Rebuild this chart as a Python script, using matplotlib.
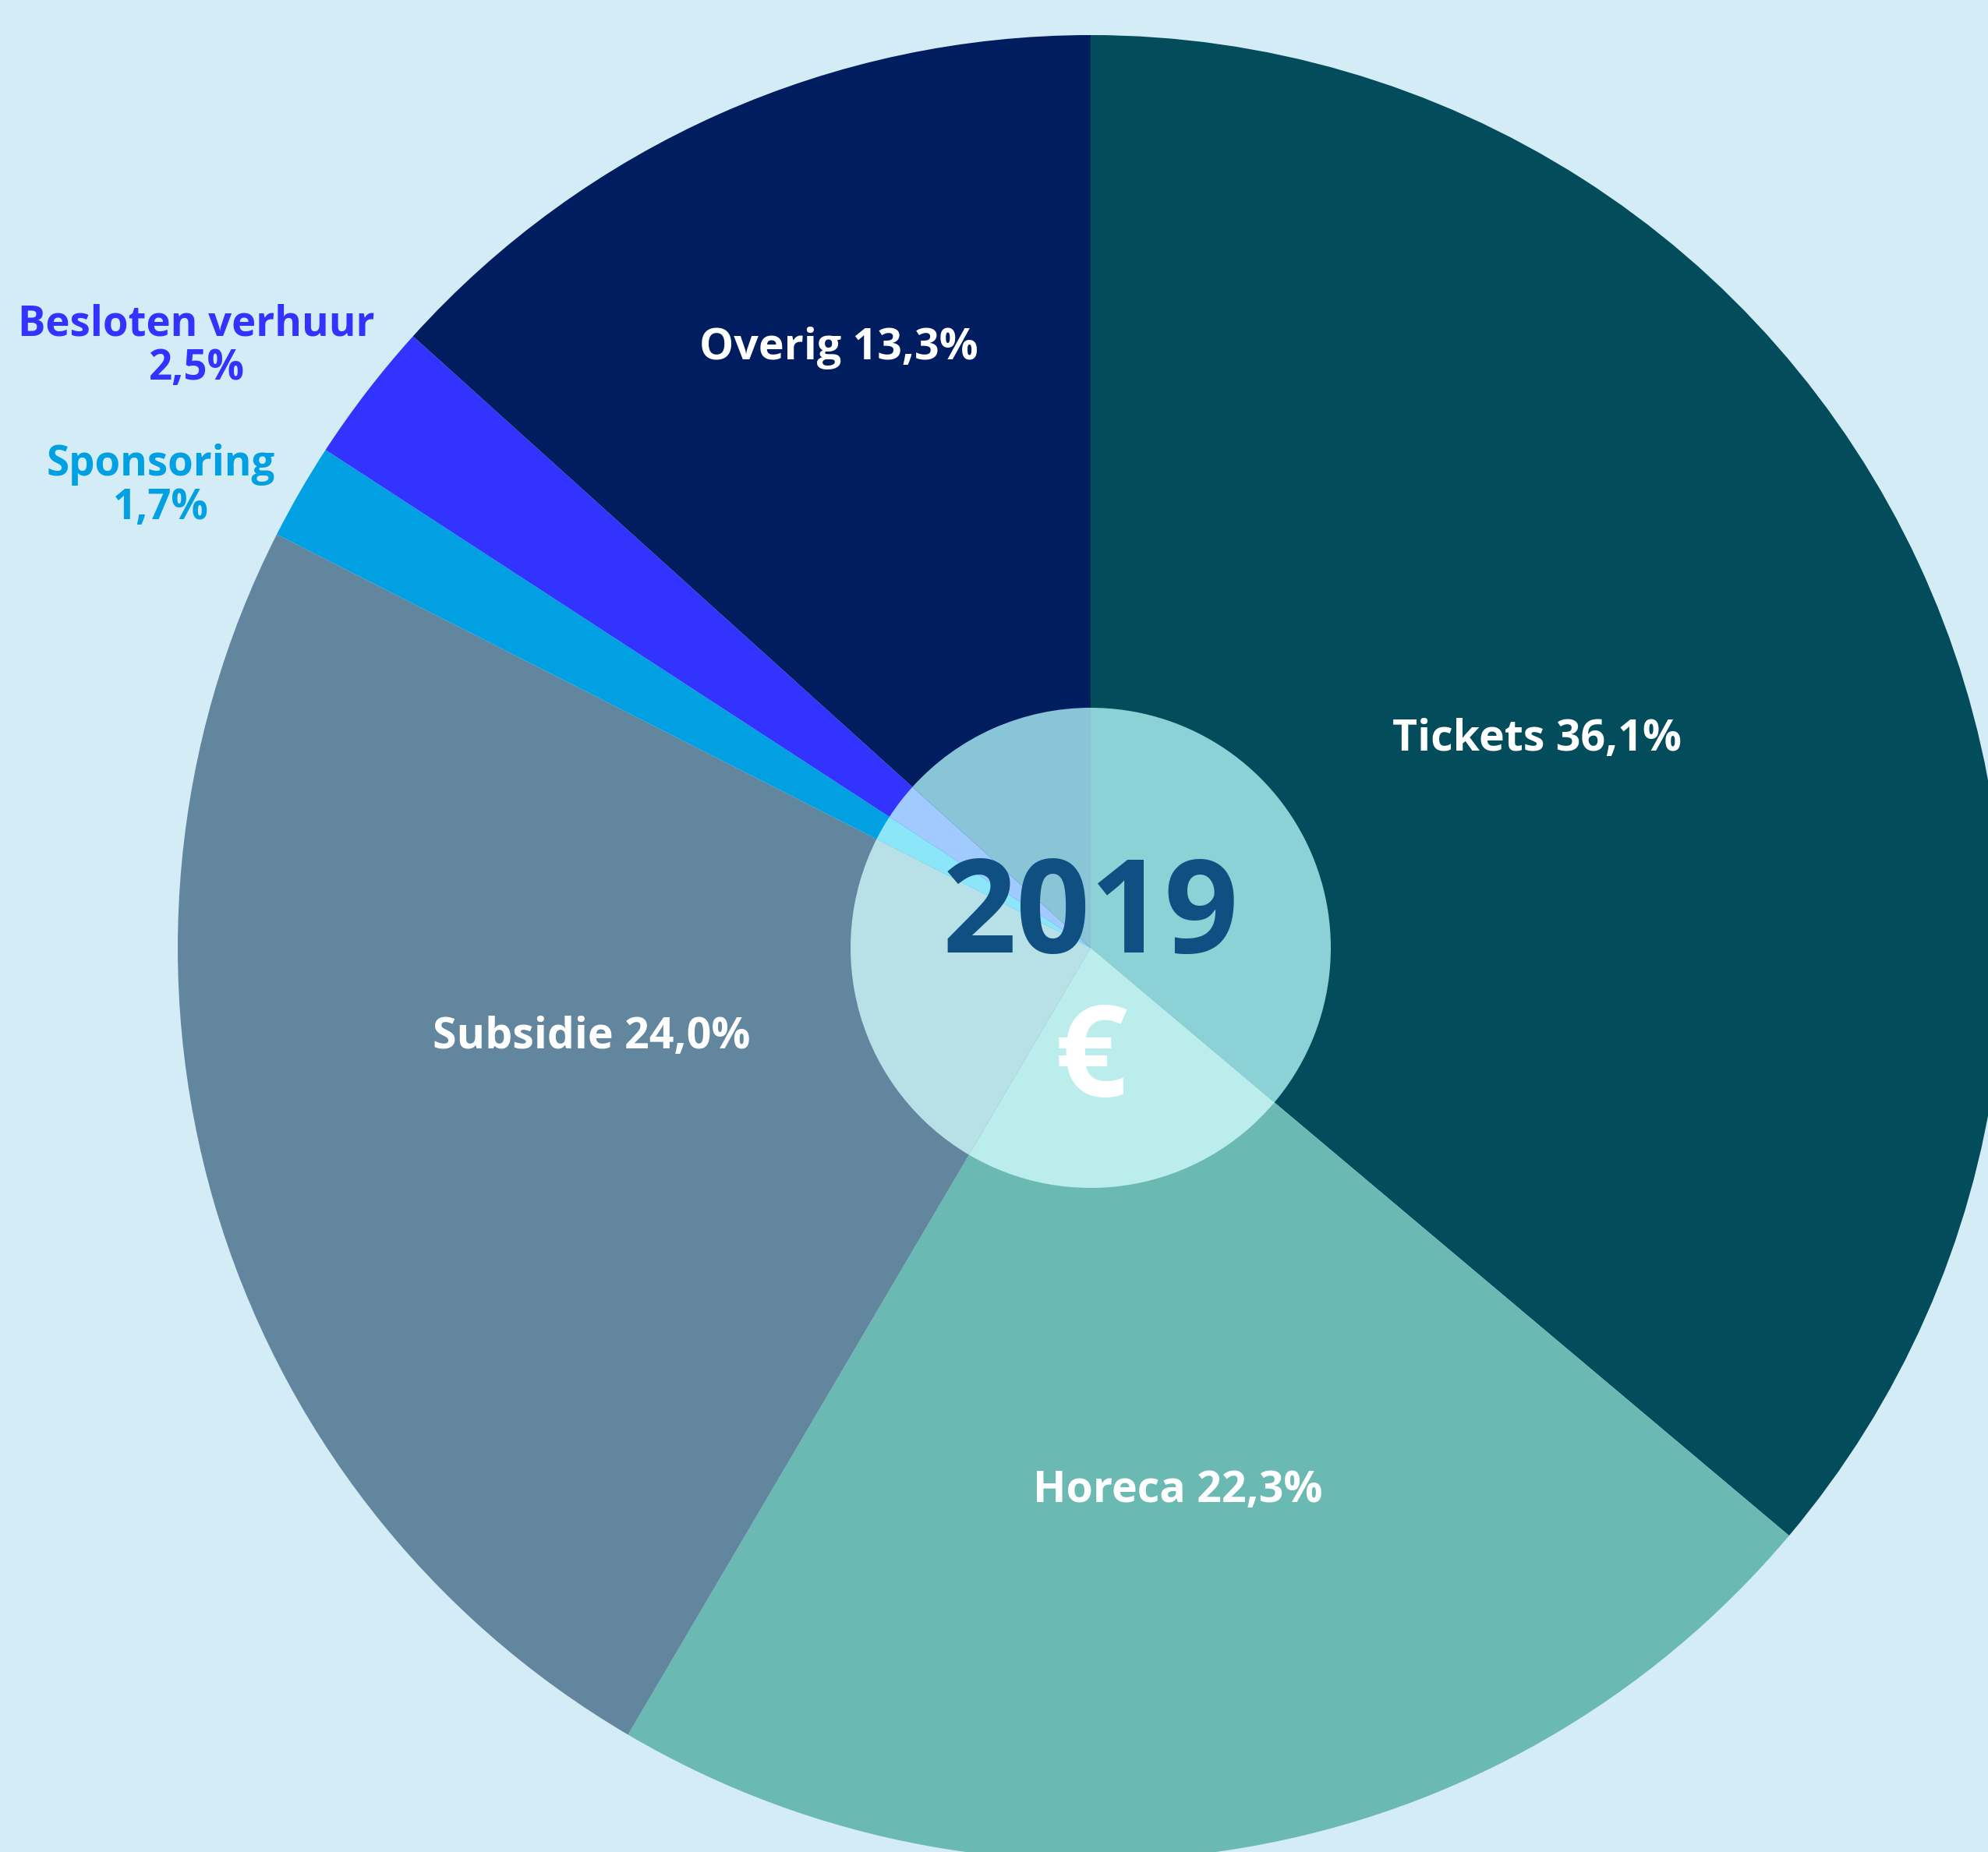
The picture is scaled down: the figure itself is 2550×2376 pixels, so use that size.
import matplotlib.pyplot as plt
from matplotlib.patches import Wedge
from matplotlib.colors import to_rgb

# revenue split 2019 (percent)
categories = ['Tickets', 'Horeca', 'Subsidie', 'Sponsoring', 'Besloten verhuur', 'Overig']
shares = [36.1, 22.3, 24.0, 1.7, 2.5, 13.3]
year = '2019'

colors = ['#034C5B', '#6ABAB3', '#62869E', '#00A0E3', '#3333FF', '#001E5F']
bg = '#D4ECF5'
hub_tint = (138 / 255, 189 / 255, 191 / 255)  # screen-blended light hub

plt.rcParams['font.family'] = ['Open Sans', 'DejaVu Sans']

fig = plt.figure(figsize=(25.5, 23.76), dpi=100, facecolor=bg)
ax = fig.add_axes([0, 0, 1, 1])
ax.set_facecolor(bg)

cx, cy, R = 1399, 1160, 1171
wedges, _ = ax.pie(shares, colors=colors, startangle=90, counterclock=False,
                   center=(cx, cy), radius=R, frame=True,
                   wedgeprops=dict(linewidth=0))
ax.set_xlim(0, 2550)
ax.set_ylim(0, 2376)
ax.set_aspect('equal')
ax.axis('off')


def screen(c):
    b = to_rgb(c)
    return tuple(1 - (1 - x) * (1 - s) for x, s in zip(b, hub_tint))


# translucent hub: each wedge lightened in its own inner part
for w, c in zip(wedges, colors):
    ax.add_patch(Wedge((cx, cy), 308, w.theta1, w.theta2,
                       facecolor=screen(c), edgecolor='none', zorder=3))


def fmt(v):
    return f"{v:.1f}".replace('.', ',') + '%'


# label anchor points (pixel space, y up)
inside = {'Tickets': (1972, 1428), 'Horeca': (1511, 464),
          'Subsidie': (759, 1046), 'Overig': (1076, 1929)}
outside = {'Besloten verhuur': (252, 1931), 'Sponsoring': (206, 1752)}

for name, val, col in zip(categories, shares, colors):
    if name in inside:
        x, y = inside[name]
        ax.text(x, y, f"{name} {fmt(val)}", color='white', fontsize=40,
                fontweight='bold', ha='center', va='center', zorder=4)
    else:
        x, y = outside[name]
        ax.text(x, y, f"{name}\n{fmt(val)}", color=col, fontsize=38,
                fontweight='bold', ha='center', va='center',
                linespacing=1.05, zorder=4)

ax.text(cx, 1197, year, color='#0F4F82', fontsize=120, fontweight='bold',
        ha='center', va='center', zorder=5)
ax.text(cx, 1012, '€', color='white', fontsize=118, fontweight='bold',
        ha='center', va='center', zorder=5)

plt.savefig('out.png', dpi=100, facecolor=bg)
